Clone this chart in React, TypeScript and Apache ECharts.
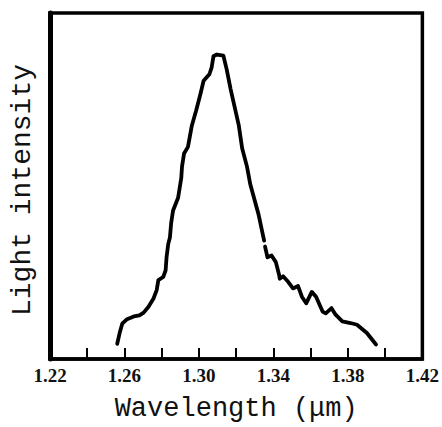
import React, { useEffect, useRef } from "react";
import * as echarts from "echarts";

const wavelength: number[] = [
  1.2561, 1.2574, 1.2588, 1.2614, 1.265, 1.268, 1.2703, 1.2729, 1.2756, 1.2773,
  1.2782, 1.2808, 1.2821, 1.2826, 1.2835, 1.2844, 1.2851, 1.2861, 1.2888, 1.2905,
  1.2909, 1.292, 1.2941, 1.2962, 1.2985, 1.3008, 1.3025, 1.3056, 1.3068, 1.3078,
  1.3096, 1.3131, 1.3149, 1.317, 1.3214, 1.3232, 1.3258, 1.3276, 1.332, 1.335,
  1.3353,
  1.3355, 1.3368, 1.339, 1.3413, 1.3431, 1.3434, 1.3452, 1.3479, 1.3505, 1.3532,
  1.3553, 1.3576, 1.3606, 1.3629, 1.3664, 1.3681, 1.3712, 1.3734, 1.377, 1.3814,
  1.3849, 1.3902, 1.3951,
];

const intensity: (number | null)[] = [
  4.4, 7.5, 10.2, 11.5, 12.3, 12.6, 13.4, 15.1, 17.5, 19.9,
  22.8, 23.7, 25.6, 29.4, 33.2, 35.1, 39.4, 42.9, 46.6, 52.3,
  55.6, 59.4, 61.3, 67.5, 71.8, 76.6, 80.4, 82.3, 84.2, 87.5,
  88.0, 87.7, 83.7, 78.0, 67.5, 60.9, 55.6, 50.4, 41.8, 34.2,
  null,
  32.5, 29.4, 29.9, 28.0, 24.2, 23.2, 23.9, 22.3, 20.4, 21.1,
  18.0, 16.1, 19.4, 18.0, 13.7, 13.2, 14.7, 12.8, 10.9, 10.4,
  9.9, 7.5, 4.2,
];

const xMin = 1.22;
const xMax = 1.42;
const xStep = 0.02;

export default function App() {
  const ref = useRef<HTMLDivElement>(null);
  useEffect(() => {
    if (!ref.current) return;
    const chart = echarts.init(ref.current, undefined, { renderer: "svg" });
    const data = wavelength.map((w, i) => [w, intensity[i]]);
    chart.setOption({
      animation: false,
      backgroundColor: "#ffffff",
      grid: {
        left: 50,
        right: 14,
        top: 13,
        bottom: 64,
        show: true,
        borderColor: "#000",
        borderWidth: 3.5,
      },
      xAxis: {
        type: "value",
        min: xMin,
        max: xMax,
        interval: xStep,
        name: "Wavelength (\u03bcm)",
        nameLocation: "middle",
        nameGap: 36,
        nameTextStyle: {
          fontFamily: "Liberation Mono",
          fontSize: 27,
          color: "#111",
        },
        axisLine: { show: true, lineStyle: { color: "#000", width: 3.5 } },
        axisTick: {
          show: true,
          inside: true,
          length: 11,
          lineStyle: { color: "#000", width: 2 },
        },
        splitLine: { show: false },
        axisLabel: {
          margin: 7,
          fontFamily: "Liberation Serif",
          fontWeight: "bold",
          fontSize: 19,
          color: "#111",
          formatter: (v: number) => {
            const idx = Math.round((v - xMin) / xStep);
            return idx % 2 === 0 ? v.toFixed(2) : "";
          },
        },
      },
      yAxis: {
        type: "value",
        min: 0,
        max: 100,
        name: "Light intensity",
        nameLocation: "middle",
        nameGap: 14,
        nameTextStyle: {
          fontFamily: "Liberation Mono",
          fontSize: 28,
          color: "#111",
          padding: [0, 8, 0, 0],
        },
        axisLine: { show: true, lineStyle: { color: "#000", width: 5 } },
        axisTick: { show: false },
        axisLabel: { show: false },
        splitLine: { show: false },
      },
      series: [
        {
          type: "line",
          data,
          showSymbol: false,
          connectNulls: false,
          smooth: false,
          lineStyle: { color: "#000", width: 3.8, join: "round", cap: "round" },
        },
      ],
    });
    return () => chart.dispose();
  }, []);
  return <div ref={ref} style={{ width: 442, height: 427, position: "absolute", left: 0, top: 0 }} />;
}
